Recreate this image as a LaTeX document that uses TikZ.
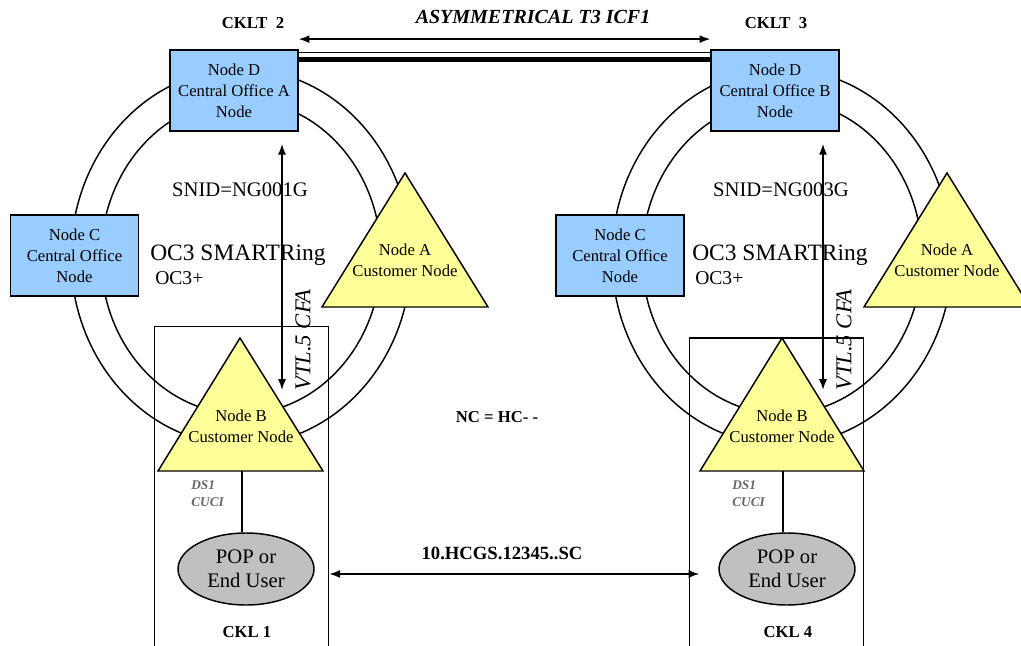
\documentclass[tikz,border=0pt]{standalone}
\usepackage{fontspec}
\setmainfont{Liberation Serif}
\usepackage{tikz}
\usetikzlibrary{shapes.geometric, arrows.meta, positioning}
\definecolor{officeblue}{HTML}{99CCFF}
\definecolor{custyellow}{HTML}{FFFF99}
\definecolor{popgray}{HTML}{C0C0C0}
\tikzstyle{office} = [rectangle, draw=black, line width=1.1pt, fill=officeblue, minimum width=96pt, minimum height=61pt, align=center, inner sep=1pt, font=\fontsize{12.5}{15.75}\selectfont]
\tikzstyle{custtri} = [draw=black, line width=1.1pt, fill=custyellow, line join=miter]
\tikzstyle{custtext} = [align=center, inner sep=0pt, font=\fontsize{12.5}{15.75}\selectfont]
\tikzstyle{popuser} = [ellipse, draw=black, line width=1.1pt, fill=popgray, minimum width=102pt, minimum height=54pt, inner sep=0pt, align=center, font=\fontsize{15.5}{18}\selectfont]
\tikzstyle{cklbox} = [rectangle, draw=black, line width=0.9pt, minimum width=131pt]
\tikzstyle{ring} = [draw=black, line width=1.1pt]
\tikzstyle{arrow} = [line width=1.1pt, {Latex[length=8pt,width=6pt]}-{Latex[length=8pt,width=6pt]}]
\tikzstyle{lbl} = [inner sep=0pt, font=\fontsize{12.5}{15}\selectfont\bfseries]
\tikzstyle{ringlbl} = [inner sep=0pt, font=\fontsize{15.5}{18}\selectfont]

\begin{document}
\begin{tikzpicture}[x=0.75pt, y=-0.75pt]

        \useasboundingbox (0,0) rectangle (1021,646);

        % Anneaux
        \draw [ring] (241,257) ellipse [x radius=170, y radius=188];
        \draw [ring] (241,257) ellipse [x radius=140, y radius=157];
        \draw [ring] (782,257) ellipse [x radius=170, y radius=188];
        \draw [ring] (782,257) ellipse [x radius=140, y radius=157];

        % Circuits CKL
        \node (cklA) [cklbox, minimum height=250pt] at (241.5,493.5) {};
        \node (cklB) [cklbox, minimum height=241.5pt] at (776.5,499) {};

        % Anneau A
        \node (dA) [office] at (234,90.5) {Node D\\Central Office A\\Node};
        \node (cA) [office] at (74.5,255.5) {Node C\\Central Office\\Node};
        \filldraw [custtri] (405,173) -- (488,307) -- (322,307) -- cycle;
        \node (aA) [custtext] at (405,260) {Node A\\Customer Node};
        \filldraw [custtri] (240,338) -- (323,471) -- (158,471) -- cycle;
        \coordinate (bAbase) at (242,471);
        \node (bA) [custtext] at (241,426) {Node B\\Customer Node};
        \node (popA) [popuser] at (246,569) {POP or\\End User};

        % Anneau B
        \node (dB) [office] at (775,90.5) {Node D\\Central Office B\\Node};
        \node (cB) [office] at (620,255.5) {Node C\\Central Office\\Node};
        \filldraw [custtri] (947,173) -- (1030,307) -- (864,307) -- cycle;
        \node (aB) [custtext] at (947,260) {Node A\\Customer Node};
        \filldraw [custtri] (782,338) -- (864,471) -- (700,471) -- cycle;
        \coordinate (bBbase) at (783,471);
        \node (bB) [custtext] at (782,426) {Node B\\Customer Node};
        \node (popB) [popuser] at (787,569) {POP or\\End User};

        % Textes
        \node (ckltA) [lbl] at (253,23) {CKLT~~2};
        \node (ckltB) [lbl] at (776,23) {CKLT~~3};
        \node (asym) [lbl, font=\fontsize{15}{18}\selectfont\bfseries\itshape] at (533,17) {ASYMMETRICAL T3 ICF1};
        \node (snidA) [ringlbl] at (240,190) {SNID=NG001G};
        \node (snidB) [ringlbl] at (781,190) {SNID=NG003G};
        \node (smartA) [ringlbl, anchor=west, font=\fontsize{17.6}{20}\selectfont] at (150,255) {OC3 SMARTRing};
        \node (smartB) [ringlbl, anchor=west, font=\fontsize{17.6}{20}\selectfont] at (692,255) {OC3 SMARTRing};
        \node (ocA) [ringlbl, anchor=west, font=\fontsize{14.7}{17}\selectfont] at (155,278) {OC3+};
        \node (ocB) [ringlbl, anchor=west, font=\fontsize{14.7}{17}\selectfont] at (695,278) {OC3+};
        \node (vtlA) [ringlbl, rotate=90, font=\fontsize{17}{20}\selectfont\itshape] at (303,340) {VTL.5 CFA};
        \node (vtlB) [ringlbl, rotate=90, font=\fontsize{17}{20}\selectfont\itshape] at (844,340) {VTL.5 CFA};
        \node (dsA) [lbl, anchor=west, align=left, text=black!60, font=\fontsize{10}{12.75}\selectfont\bfseries\itshape] at (191,494) {DS1\\CUCI};
        \node (dsB) [lbl, anchor=west, align=left, text=black!60, font=\fontsize{10}{12.75}\selectfont\bfseries\itshape] at (732,494) {DS1\\CUCI};
        \node (cklLblA) [lbl] at (247,632) {CKL 1};
        \node (cklLblB) [lbl] at (788,632) {CKL 4};
        \node (nc) [lbl] at (497,417) {NC = HC- -};
        \node (hcgs) [lbl, font=\fontsize{14}{16}\selectfont\bfseries] at (502,553) {10.HCGS.12345..SC};

        % Liaisons
        \draw [arrow] ([yshift=7.5pt]dA.north east) -- ([yshift=7.5pt]dB.north west);
        \draw [line width=0.9pt] ([yshift=-2.6pt]dA.north east) -- ([yshift=-2.6pt]dB.north west);
        \draw [line width=3.4pt] ([yshift=-7.9pt]dA.north east) -- ([yshift=-7.9pt]dB.north west);
        \draw [arrow] ([xshift=36pt, yshift=-9pt]dA.south) -- ++(0,246);
        \draw [arrow] ([xshift=36pt, yshift=-9pt]dB.south) -- ++(0,246);
        \draw [line width=1.1pt] (bAbase) -- (bAbase |- popA.north);
        \draw [line width=1.1pt] (bBbase) -- (bBbase |- popB.north);
        \draw [arrow] ([yshift=-3.75pt]cklA.east |- popA) -- ([xshift=8pt, yshift=-3.75pt]cklB.west |- popB);

\end{tikzpicture}
\end{document}
